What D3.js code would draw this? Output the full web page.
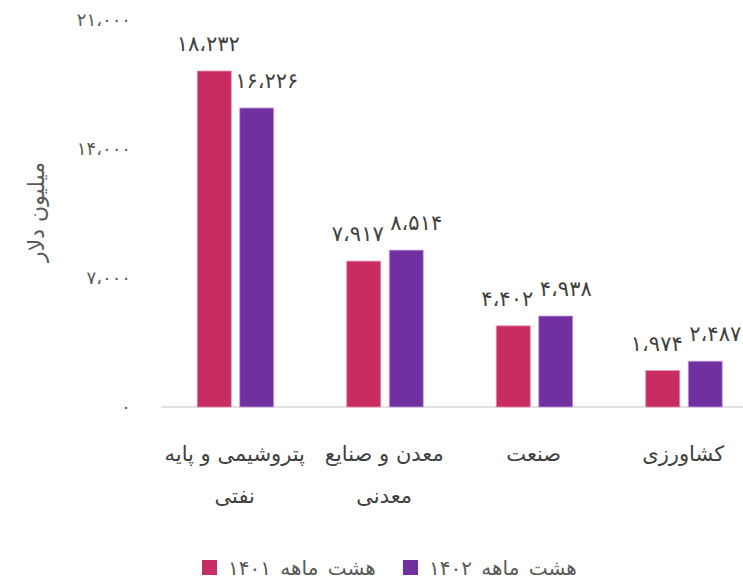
<!DOCTYPE html>
<html>
<head>
<meta charset="utf-8">
<script src="https://cdn.jsdelivr.net/npm/d3@7"></script>
<style>
body { margin: 0; background: #fff; }
text { font-family: "DejaVu Sans", sans-serif; fill: #404040; }
</style>
</head>
<body>
<div id="chart"></div>
<script>
// data
var categories = [["پتروشیمی و پایه", "نفتی"], ["معدن و صنایع", "معدنی"], ["صنعت"], ["کشاورزی"]];
var seriesNames = ["هشت ماهه ۱۴۰۱", "هشت ماهه ۱۴۰۲"];
var values1401 = [18232, 7917, 4402, 1974];
var values1402 = [16226, 8514, 4938, 2487];
var yTicks = [0, 7000, 14000, 21000];
var colors = ["#C72C62", "#7030A0"];

var width = 743, height = 583;
var faDigits = "۰۱۲۳۴۵۶۷۸۹";
function fa(n) {
	return d3.format(",")(n).replace(/,/g, "،").replace(/[0-9]/g, function(d){ return faDigits[+d]; });
}

var svg = d3.select("#chart")
	.append("svg")
	.attr("width", width)
	.attr("height", height);

var x = d3.scaleBand()
	.domain(d3.range(categories.length))
	.range([160, 758]);
var x1 = d3.scaleBand()
	.domain([0, 1])
	.range([33, 118]);
var y = d3.scaleLinear()
	.domain([0, 21000])
	.range([407, 20]);

// y axis labels
var yAxis = d3.axisLeft(y).tickValues(yTicks).tickSize(0).tickPadding(0).tickFormat(fa);
svg.append("g")
	.attr("transform", "translate(131,0)")
	.call(yAxis)
	.call(function(g){ g.select(".domain").remove(); })
	.selectAll("text")
	.style("font-size", "18px")
	.style("letter-spacing", "3px")
	.style("fill", "#595959")
	.style("font-family", null);

svg.append("text")
	.attr("transform", "translate(44,212) rotate(-90)")
	.attr("text-anchor", "middle")
	.style("font-size", "22px")
	.style("fill", "#595959")
	.text("میلیون دلار");

// baseline
svg.append("line")
	.attr("x1", 161).attr("x2", width)
	.attr("y1", y(0)).attr("y2", y(0))
	.attr("stroke", "#D9D9D9").attr("stroke-width", 1.5);

var series = [values1401, values1402];
var bw = 34;
series.forEach(function(vals, s){
	var g = svg.append("g");
	g.selectAll("rect")
		.data(vals)
		.enter().append("rect")
		.attr("x", function(d, i){ return x(i) + x1(s) + (x1.bandwidth() - bw) / 2; })
		.attr("y", function(d){ return y(d); })
		.attr("width", bw)
		.attr("height", function(d){ return y(0) - y(d); })
		.attr("fill", colors[s])
		.attr("stroke", s === 0 ? "#E890B0" : "#C8A0DC")
		.attr("stroke-width", 0.8);
	g.selectAll("text")
		.data(vals)
		.enter().append("text")
		.attr("x", function(d, i){ return x(i) + x1(s) + x1.bandwidth() / 2 + (s === 0 ? -6 : 10); })
		.attr("y", function(d){ return y(d) - 20; })
		.attr("text-anchor", "middle")
		.style("font-size", "21px")
		.text(fa);
});

// category labels
var cat = svg.append("g").selectAll("text")
	.data(categories)
	.enter().append("text")
	.attr("text-anchor", "middle")
	.style("font-size", "21px")
	.attr("x", function(d, i){ return x(i) + x.bandwidth() / 2; })
	.attr("y", 461);
cat.selectAll("tspan")
	.data(function(d){ return d; })
	.enter().append("tspan")
	.attr("x", function(){ return d3.select(this.parentNode).attr("x"); })
	.attr("dy", function(d, j){ return j === 0 ? 0 : 42; })
	.text(function(d){ return d; });

// legend
var legend = svg.append("g").selectAll("g")
	.data(seriesNames)
	.enter().append("g")
	.attr("transform", function(d, i){ return "translate(" + (202 + i * 201) + ",560)"; });
legend.append("rect")
	.attr("width", 15).attr("height", 15)
	.attr("fill", function(d, i){ return colors[i]; });
legend.append("text")
	.attr("x", 26)
	.attr("y", 15)
	.attr("text-anchor", "start")
	.style("font-size", "20px")
	.style("word-spacing", "3px")
	.style("fill", "#595959")
	.text(function(d){ return d; });
</script>
</body>
</html>
